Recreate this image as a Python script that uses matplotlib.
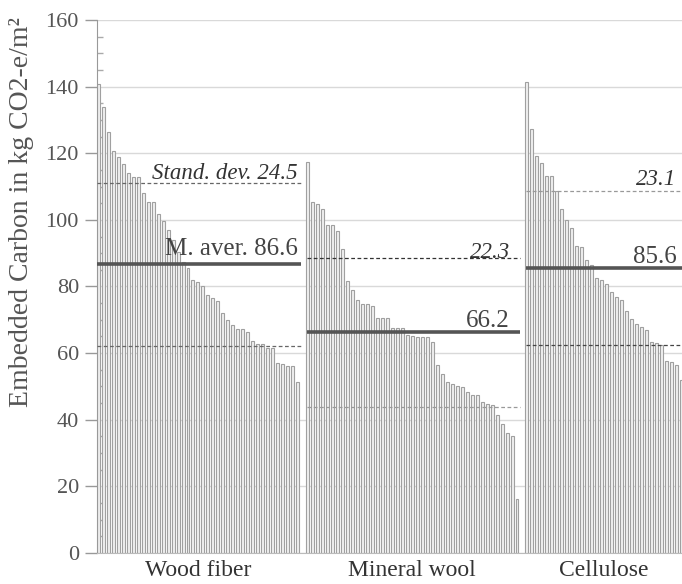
import matplotlib.pyplot as plt
from matplotlib.ticker import MultipleLocator

plt.rcParams['font.family'] = ['Liberation Serif', 'DejaVu Serif']

groups = ['Wood fiber', 'Mineral wool', 'Cellulose']
wood_fiber = [140.8, 133.8, 126.4, 120.8, 118.8, 116.7, 114.0, 112.8, 112.8, 108.2,
              105.3, 105.3, 101.9, 99.7, 96.9, 94.0, 90.5, 87.4, 85.6, 81.9,
              81.2, 80.2, 77.4, 76.4, 75.6, 71.9, 69.9, 68.4, 67.3, 67.3,
              66.3, 63.6, 62.6, 62.6, 61.6, 61.6, 57.1, 56.7, 56.0, 56.0, 51.3]
mineral_wool = [117.5, 105.3, 104.7, 103.2, 98.5, 98.5, 96.7, 91.2, 81.5, 78.9,
                75.9, 74.7, 74.7, 74.2, 70.5, 70.5, 70.5, 67.6, 67.6, 67.6,
                65.5, 65.2, 64.8, 64.8, 64.8, 63.3, 56.4, 53.6, 51.3, 50.8,
                50.2, 49.9, 48.3, 47.3, 47.3, 45.4, 44.6, 44.3, 41.4, 38.6,
                35.9, 35.1, 16.2]
cellulose = [141.5, 127.2, 119.2, 117.0, 113.2, 113.2, 108.7, 103.2, 100.0, 97.5,
             92.2, 91.9, 88.0, 86.3, 82.4, 81.8, 80.7, 78.4, 76.7, 76.0,
             72.6, 70.3, 68.8, 67.8, 66.8, 63.3, 63.0, 62.3, 57.7, 57.3,
             56.3, 52.0]
means = [86.6, 66.2, 85.6]
stdevs = [24.5, 22.3, 23.1]
std_labels = ['Stand. dev. 24.5', '22.3', '23.1']
mean_labels = ['M. aver. 86.6', '66.2', '85.6']

series = [wood_fiber, mineral_wool, cellulose]

fig = plt.figure(figsize=(6.82, 5.84), dpi=100)
ax = fig.add_axes([0.1422, 0.0531, 0.8578, 0.9127])

txt = '#555555'
upper_c = ['#666666', '#333333', '#999999']
lower_c = ['#666666', '#999999', '#444444']
std_y = [112.3, 88.6, 110.5]
mean_y = [89.4, 67.8, 87.1]
std_x = [40.0, 82.6, 116.0]

start = 0
centers = []
for i, vals in enumerate(series):
    xs = list(range(start, start + len(vals)))
    ax.bar(xs, vals, width=0.6, facecolor='#f0f0f0', edgecolor='#a0a0a0',
           linewidth=0.8, zorder=2)
    x0, x1 = xs[0] - 0.2, xs[-1] + 0.6
    ax.hlines(means[i], x0, x1, color='#555555', linewidth=2.6, zorder=3)
    ax.hlines(means[i] + stdevs[i], x0, x1, color=upper_c[i], linewidth=0.9,
              linestyles=(0, (3, 2)), zorder=3)
    ax.hlines(means[i] - stdevs[i], x0, x1, color=lower_c[i], linewidth=0.9,
              linestyles=(0, (3, 2)), zorder=3)
    ax.text(std_x[i], std_y[i], std_labels[i], ha='right', va='baseline',
            fontsize=16.5, style='italic', color='#333333', zorder=4)
    ax.text(std_x[i], mean_y[i], mean_labels[i], ha='right', va='baseline',
            fontsize=18, color='#444444', zorder=4)
    centers.append((xs[0] + xs[-1]) / 2)
    start = xs[-1] + 2

ax.set_xlim(-0.26, 117.1)
ax.set_ylim(0, 160)
ax.yaxis.set_major_locator(MultipleLocator(20))
ax.yaxis.set_minor_locator(MultipleLocator(5))
ax.grid(axis='y', which='major', color='#d9d9d9', linewidth=1.0, zorder=0)
ax.set_axisbelow(True)

ax.set_xticks(centers)
ax.set_xticklabels(groups, fontsize=17, color='#333333')
ax.tick_params(axis='x', length=0, pad=5)
ax.tick_params(axis='y', which='major', direction='out', length=9, width=1,
               color='#999999', labelsize=16, labelcolor=txt, pad=4)
ax.tick_params(axis='y', which='minor', direction='in', length=4, width=1,
               color='#aaaaaa')

for s in ['top', 'right']:
    ax.spines[s].set_visible(False)
ax.spines['left'].set_color('#999999')
ax.spines['bottom'].set_color('#bbbbbb')

fig.text(0.032, 0.637, 'Embedded Carbon in kg CO2-e/m\u00b2', rotation=90,
         ha='center', va='center', fontsize=20, color=txt)

fig.savefig('out.png', dpi=100)
